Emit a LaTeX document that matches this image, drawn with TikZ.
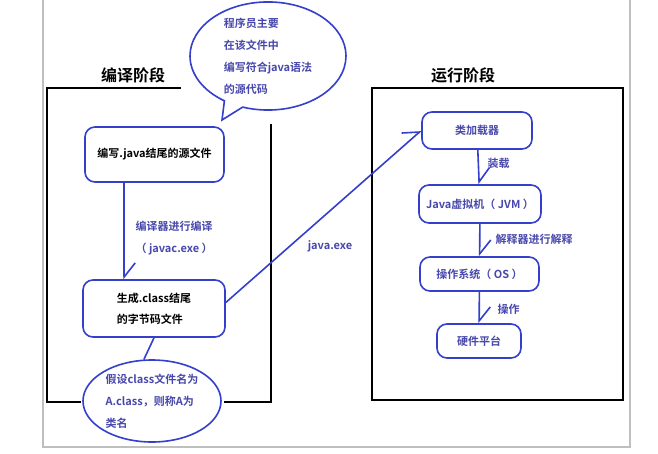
\documentclass[tikz,border=0pt]{standalone}
\usepackage{fontspec}
\setmainfont{Noto Sans CJK SC}[BoldFont={Noto Sans CJK SC Bold}]
\usepackage{color}
\usetikzlibrary{arrows.meta}
\usetikzlibrary{shapes.geometric,shapes.callouts,positioning}

\definecolor{penblue}{RGB}{52,64,204}
\definecolor{inkblue}{RGB}{72,72,172}

\begin{document}
\begin{tikzpicture}[x=1pt,y=-1pt,line cap=round,
  stagebox/.style={draw=black, line width=2.2pt, line cap=rect},
  stagetitle/.style={font=\fontsize{16pt}{16pt}\selectfont\bfseries},
  proc/.style={draw=penblue, line width=1.6pt, rounded corners=10pt, fill=white,
    font=\fontsize{11pt}{21pt}\selectfont\bfseries, align=left, inner sep=0pt},
  note/.style={text=inkblue, font=\fontsize{11pt}{22pt}\selectfont\bfseries, align=left},
  flow/.style={draw=penblue, line width=1.6pt, -{Straight Barb[left,length=14pt,width=22pt]}}]
  \useasboundingbox (0,0) rectangle (658,454);
  \fill[white] (0,0) rectangle (658,454);
  %% window edge
  \draw[black!25, line width=1.5pt] (43,0) -- (43,447) -- (630,447) -- (630,0);

  %% stage frames
  \draw[stagebox] (180,88) -- (47,88) -- (47,402) -- (80,402);
  \draw[stagebox] (225,402) -- (271,402) -- (271,125);
  \draw[stagebox] (372,88) rectangle (623,400);
  \node[stagetitle] (compile) at (133,75) {编译阶段};
  \node[stagetitle] (runtime) at (463,75) {运行阶段};

  %% compile stage
  \node[ellipse callout, draw=penblue, line width=1.6pt, fill=white, note,
    inner sep=0pt, minimum width=156pt, minimum height=102pt,
    callout absolute pointer={(222,120)}]
    (remark) at (268,56) {程序员主要\\在该文件中\\编写符合java语法\\的源代码};
  \node[proc, minimum width=139pt, minimum height=55pt] (src) at (154.5,154.5) {编写.java结尾的源文件};
  \node[proc, minimum width=142pt, minimum height=57pt] (cls) at (154,308.5) {生成.class结尾\\的字节码文件};
  \node[ellipse, draw=penblue, line width=1.6pt, fill=white, note,
    inner sep=0pt, minimum width=138pt, minimum height=82pt] (cname) at (152,401) {假设class文件名为\\A.class，则称A为\\类名};
  \node[note, anchor=west] (javac) at (132,238) {编译器进行编译\\（ javac.exe ）};
  \draw[flow] ([xshift=40pt]src.south west) -- ([xshift=42pt]cls.north west);
  \draw[penblue, line width=1.6pt] (cls.south) -- ([xshift=-8pt]cname.north);

  %% run stage
  \node[proc, text=inkblue, minimum width=110pt, minimum height=37pt] (loader) at (477,130.5) {类加载器};
  \node[proc, text=inkblue, minimum width=122pt, minimum height=38pt] (jvm) at (480,204) {Java虚拟机（ JVM ）};
  \node[proc, text=inkblue, minimum width=119pt, minimum height=34pt] (os) at (479.5,274) {操作系统（ OS ）};
  \node[proc, text=inkblue, minimum width=84pt, minimum height=34pt] (hw) at (479,341) {硬件平台};
  \draw[flow] (loader) -- (jvm);
  \draw[flow] (jvm) -- (os);
  \draw[flow] (os) -- (hw);
  \node[note, anchor=west] (load) at (484,163) {装载};
  \node[note, anchor=west] (interp) at (492,239) {解释器进行解释};
  \node[note, anchor=west] (oper) at (494,309) {操作};

  %% java.exe
  \draw[flow] ([yshift=6pt]cls.east) -- (loader.west);
  \node[note] (launch) at (330,246) {java.exe};
\end{tikzpicture}
\end{document}
